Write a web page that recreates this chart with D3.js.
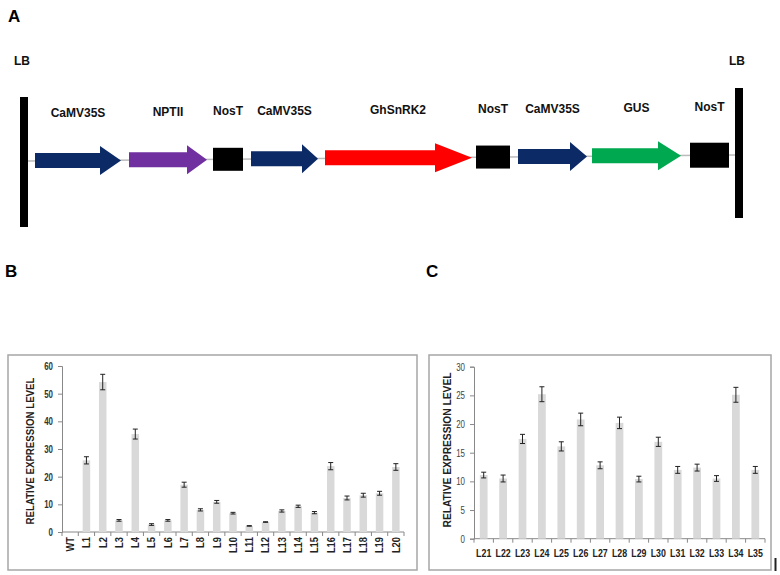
<!DOCTYPE html>
<html><head><meta charset="utf-8">
<script src="https://cdn.jsdelivr.net/npm/d3@7"></script>
<style>body{margin:0;background:#fff}svg{display:block}</style>
</head><body>
<svg id="c" width="780" height="575"></svg>
<script>
// ---------- Panel A data (construct elements, along-construct units) ----------
const elemLabels = ["CaMV35S","NPTII","NosT","CaMV35S","GhSnRK2","NosT","CaMV35S","GUS","NosT"];
const elemTypes  = ["arrow","arrow","box","arrow","arrow","box","arrow","arrow","box"];
const elemStart  = [35,129,213,251,325,476,518,592,690];
const elemEnd    = [121,207,243,318,472,510,587,681,729];
const elemHead   = [100,187,null,302,435,null,570,658,null];
const elemColors = ["#0b2a66","#7030a0","#000000","#0b2a66","#ff0000","#000000","#0b2a66","#00a850","#000000"];
const borderLabels = ["LB","LB"];

// ---------- Panel B data ----------
const catsB = ["WT","L1","L2","L3","L4","L5","L6","L7","L8","L9","L10","L11","L12","L13","L14","L15","L16","L17","L18","L19","L20"];
const valsB = [0,25.9,54.2,4.2,35.4,2.7,4.2,17.1,8.0,10.9,6.8,2.2,3.6,7.6,9.3,7.0,23.8,12.3,13.3,14.0,23.5];
const errB  = [0,1.3,2.8,0.3,1.8,0.3,0.3,0.9,0.4,0.5,0.3,0.1,0.1,0.4,0.4,0.4,1.3,0.7,0.7,0.7,1.2];
const ticksB = [0,10,20,30,40,50,60];

// ---------- Panel C data ----------
const catsC = ["L21","L22","L23","L24","L25","L26","L27","L28","L29","L30","L31","L32","L33","L34","L35"];
const valsC = [11.1,10.5,17.4,25.2,16.1,20.8,12.8,20.2,10.4,16.9,12.0,12.4,10.5,25.1,12.0];
const errC  = [0.5,0.6,0.8,1.3,0.8,1.1,0.6,1.0,0.5,0.8,0.6,0.6,0.5,1.3,0.6];
const ticksC = [0,5,10,15,20,25,30];

const svg = d3.select("#c");
const font = "'Liberation Sans',Arial,sans-serif";

// condense a text selection horizontally (glyph compression)
function condense(sel, factor){
  sel.each(function(){
    const w = this.getComputedTextLength();
    d3.select(this).attr("textLength", w*factor).attr("lengthAdjust","spacingAndGlyphs");
  });
}

// ================= Panel A =================
const xA = d3.scaleLinear().domain([0,780]).range([0,780]);
const yAt = d3.scaleLinear().domain([28,735]).range([161,155]); // slight tilt of the figure

svg.append("text").attr("x",8).attr("y",22).attr("font-family",font).attr("font-weight","bold").attr("font-size",17).text("A");

svg.append("line").attr("x1",xA(28)).attr("x2",xA(735)).attr("y1",yAt(28)).attr("y2",yAt(735))
  .attr("stroke","#bbbbbb").attr("stroke-width",1.5);

svg.append("rect").attr("x",xA(20)).attr("y",97).attr("width",8).attr("height",130).attr("fill","#000");
svg.append("rect").attr("x",xA(735)).attr("y",88).attr("width",8).attr("height",130).attr("fill","#000");
svg.selectAll("text.lb").data(borderLabels).join("text").attr("class","lb")
  .attr("x",(d,i)=>i===0?xA(22):xA(737)).attr("y",65).attr("text-anchor","middle")
  .attr("font-family",font).attr("font-weight","bold").attr("font-size",12).attr("fill","#111").text(d=>d);

const elems = elemLabels.map((l,i)=>({label:l,type:elemTypes[i],s:elemStart[i],e:elemEnd[i],h:elemHead[i],c:elemColors[i]}));
elems.forEach(d=>{
  const yc = yAt((d.s+d.e)/2);
  if(d.type==="arrow"){
    const bh = 7.5, hh = 14.5;
    const pts = [[xA(d.s),yc-bh],[xA(d.h),yc-bh],[xA(d.h),yc-hh],[xA(d.e),yc],[xA(d.h),yc+hh],[xA(d.h),yc+bh],[xA(d.s),yc+bh]];
    svg.append("polygon").attr("points",pts.map(p=>p.join(",")).join(" ")).attr("fill",d.c);
  } else {
    const hh = d.e-d.s>35?12.5:11.5;
    svg.append("rect").attr("x",xA(d.s)).attr("y",yc-hh).attr("width",xA(d.e)-xA(d.s)).attr("height",hh*2).attr("fill",d.c);
  }
});
svg.selectAll("text.el").data(elems).join("text").attr("class","el")
  .attr("x",d=>xA(d.label==="GhSnRK2"?398:(d.s+d.e)/2)).attr("y",d=>yAt((d.s+d.e)/2)-44)
  .attr("text-anchor","middle").attr("font-family",font).attr("font-weight","bold").attr("font-size",12).attr("fill","#111")
  .text(d=>d.label);

// ================= helper for bar panels =================
function barPanel(o){
  const g = svg.append("g");
  g.append("rect").attr("x",o.box[0]).attr("y",o.box[1]).attr("width",o.box[2]-o.box[0]).attr("height",o.box[3]-o.box[1])
    .attr("fill","none").attr("stroke","#a6a6a6").attr("stroke-width",1.5);
  const x = d3.scaleBand().domain(o.cats).range([o.x0,o.x1]).paddingInner(o.pad).paddingOuter(o.pad/2);
  const y = d3.scaleLinear().domain([0,o.ymax]).range([o.y0,o.y1]);
  // y axis
  const ya = g.append("g").attr("transform",`translate(${o.x0},0)`)
    .call(d3.axisLeft(y).tickValues(o.ticks).tickSize(4).tickPadding(5));
  ya.select(".domain").attr("stroke","#888");
  ya.selectAll(".tick line").attr("stroke","#888");
  ya.selectAll(".tick text").attr("font-family",font).attr("font-weight",o.ytBold?"bold":"normal")
    .attr("font-size",o.ytSize).attr("fill",o.ytBold?"#333":"#444").call(condense,o.ytCond);
  // x axis
  const xa = g.append("g").attr("transform",`translate(0,${o.y0})`).call(d3.axisBottom(x).tickSize(0).tickPadding(0));
  xa.select(".domain").remove();
  xa.selectAll(".tick line").remove();
  g.append("line").attr("x1",o.x0).attr("x2",o.x1).attr("y1",o.y0).attr("y2",o.y0).attr("stroke","#888");
  const step = x.step();
  const edges = d3.range(o.cats.length+1).map(i=>x(o.cats[0]) - (step - x.bandwidth())/2 + i*step);
  g.selectAll("line.xt").data(edges).join("line").attr("class","xt")
    .attr("x1",d=>d).attr("x2",d=>d).attr("y1",o.y0).attr("y2",o.y0+4).attr("stroke","#888");
  const xt = xa.selectAll(".tick text").attr("font-family",font).attr("font-weight","bold").attr("font-size",o.xtSize).attr("fill","#222");
  if(o.rotate){
    xt.attr("transform","rotate(-90)").attr("text-anchor","end").attr("dy","0.35em").attr("x",-5).attr("y",0);
  } else {
    xt.attr("dy","0").attr("y",18);
  }
  xt.call(condense,o.xtCond);
  // bars
  g.selectAll("rect.bar").data(o.vals).join("rect").attr("class","bar")
    .attr("x",(d,i)=>x(o.cats[i])).attr("width",x.bandwidth())
    .attr("y",d=>y(d)).attr("height",d=>y(0)-y(d)).attr("fill","#d9d9d9");
  // error bars
  const eg = g.selectAll("g.err").data(o.vals.map((v,i)=>({v,e:o.errs[i],c:o.cats[i]})).filter(d=>d.v>0)).join("g").attr("class","err");
  const cx = d=>x(d.c)+x.bandwidth()/2;
  eg.append("line").attr("x1",cx).attr("x2",cx).attr("y1",d=>y(d.v+d.e)).attr("y2",d=>y(d.v-d.e)).attr("stroke","#222").attr("stroke-width",1);
  eg.append("line").attr("x1",d=>cx(d)-2.5).attr("x2",d=>cx(d)+2.5).attr("y1",d=>y(d.v+d.e)).attr("y2",d=>y(d.v+d.e)).attr("stroke","#222").attr("stroke-width",1);
  eg.append("line").attr("x1",d=>cx(d)-2.5).attr("x2",d=>cx(d)+2.5).attr("y1",d=>y(d.v-d.e)).attr("y2",d=>y(d.v-d.e)).attr("stroke","#222").attr("stroke-width",1);
  // y title
  g.append("text").attr("transform",`translate(${o.titleX},${o.titleY}) rotate(-90)`)
    .attr("text-anchor","middle").attr("dy","0.35em").attr("font-family",font).attr("font-weight","bold")
    .attr("font-size",o.titleSize).attr("fill","#222").attr("textLength",o.titleLen).attr("lengthAdjust","spacingAndGlyphs")
    .text("RELATIVE EXPRESSION LEVEL");
  svg.append("text").attr("x",o.letter[1]).attr("y",o.letter[2]).attr("font-family",font).attr("font-weight","bold")
    .attr("font-size",17).text(o.letter[0]);
}

barPanel({box:[8,355,417,570], cats:catsB, vals:valsB, errs:errB, ticks:ticksB, ymax:60,
  x0:62, x1:404, y0:532, y1:366, pad:0.54, rotate:true, xtSize:11, xtCond:0.85, ytSize:11, ytBold:true, ytCond:0.72,
  titleX:30, titleY:451, titleSize:11, titleLen:147, letter:["B",5,277]});

barPanel({box:[429,355,771,570], cats:catsC, vals:valsC, errs:errC, ticks:ticksC, ymax:30,
  x0:474, x1:765, y0:538.7, y1:366.7, pad:0.6, rotate:false, xtSize:11, xtCond:0.8, ytSize:11, ytBold:false, ytCond:0.72,
  titleX:447, titleY:450, titleSize:11, titleLen:155, letter:["C",426,277]});

// stray mark at bottom right of panel C
svg.append("line").attr("x1",775.5).attr("x2",775.5).attr("y1",558).attr("y2",571).attr("stroke","#222").attr("stroke-width",2);
</script>
</body></html>
